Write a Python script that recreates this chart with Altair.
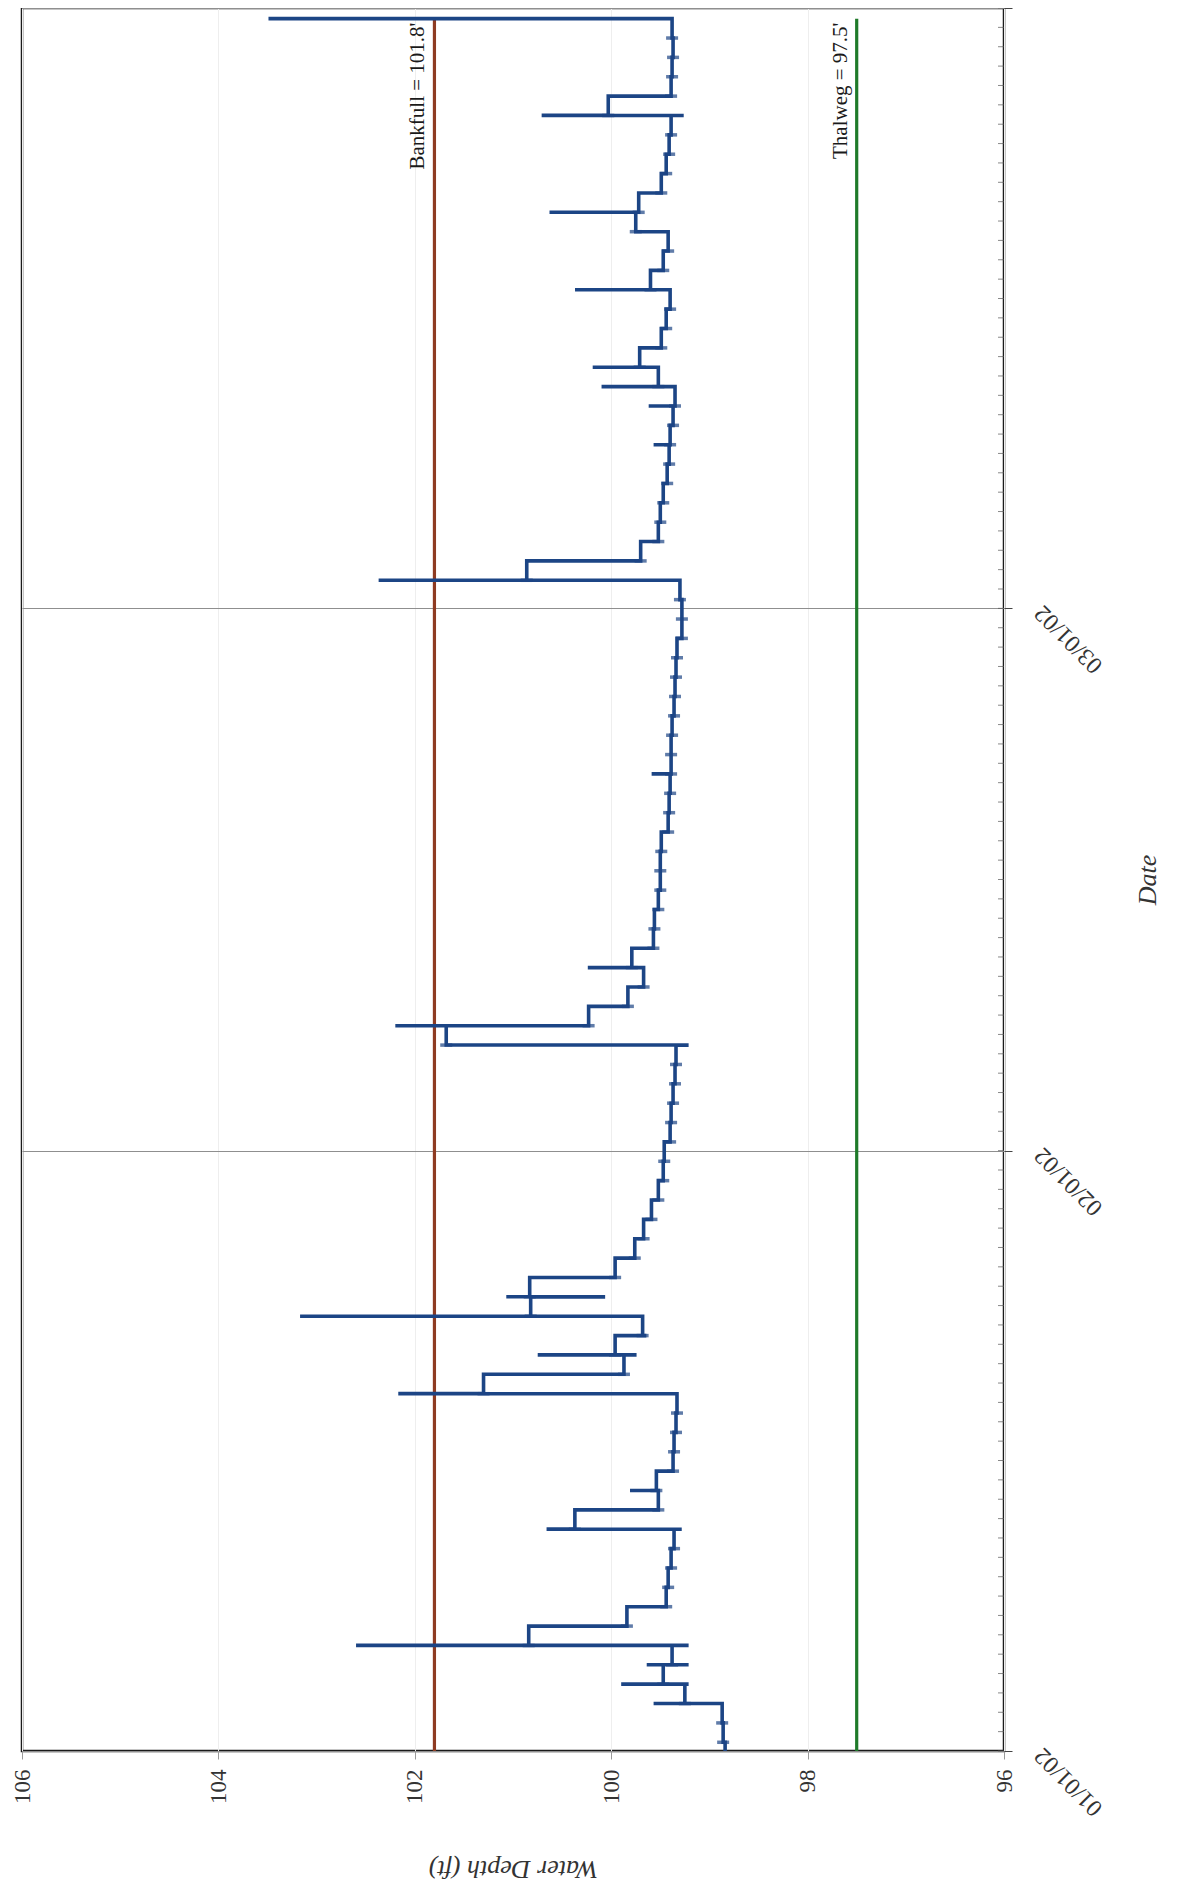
import json
from datetime import datetime, timedelta, timezone

import altair as alt
import pandas as pd

# ---------------- data ----------------
START = datetime(2002, 1, 1, tzinfo=timezone.utc)

start_depth = 98.84          # water depth at 01/01/02
step_offset = 0.45           # daily readings change around mid-day

# daily water depth (ft), one value per day from 01/01/02 to 03/31/02
levels = [
    98.86, 98.87, 99.25, 99.47, 99.38, 100.84, 99.84, 99.44, 99.42, 99.39,
    99.36, 100.37, 99.52, 99.54, 99.37, 99.36, 99.34, 99.33, 101.30, 99.87,
    99.96, 99.68, 100.82, 100.83, 99.96, 99.76, 99.67, 99.59, 99.52, 99.47,
    99.46, 99.40, 99.39, 99.37, 99.35, 99.34, 101.68, 100.23, 99.83, 99.67,
    99.79, 99.57, 99.56, 99.52, 99.50, 99.50, 99.49, 99.42, 99.41, 99.40,
    99.39, 99.39, 99.38, 99.36, 99.35, 99.34, 99.33, 99.28, 99.28, 99.30,
    100.86, 99.70, 99.52, 99.50, 99.47, 99.43, 99.41, 99.40, 99.37, 99.35,
    99.52, 99.71, 99.49, 99.44, 99.40, 99.60, 99.47, 99.42, 99.75, 99.72,
    99.49, 99.44, 99.41, 99.39, 100.03, 99.39, 99.38, 99.37, 99.38, 103.49,
]

# short-lived storm peaks (day index -> peak depth)
peak_days = [2, 3, 4, 5, 11, 13, 18, 20, 22, 23, 37, 40, 50, 60, 67, 69, 70, 71, 75, 79, 84]
peak_depths = [99.55, 99.88, 99.62, 102.58, 100.64, 99.79, 102.15, 100.73, 103.15, 101.05,
               102.18, 100.22, 99.57, 102.35, 99.55, 99.60, 100.08, 100.17, 100.35, 100.61, 100.69]

# short-lived low readings (day index -> low depth)
trough_days = [3, 4, 5, 11, 20, 21, 23, 36, 84]
trough_depths = [99.23, 99.23, 99.23, 99.30, 99.76, 99.66, 100.08, 99.23, 99.28]

ref_depths = [101.8, 97.5]
ref_labels = ["Bankfull = 101.8'", "Thalweg = 97.5'"]
ref_colors = ["#8e3b22", "#1f7a2a"]

month_days = [0, 31, 59, 90]
month_labels = ["01/01/02", "02/01/02", "03/01/02", ""]
depth_ticks = [96, 98, 100, 102, 104, 106]


def ms(days):
    return (START + timedelta(days=days)).timestamp() * 1000


# ---------------- tables ----------------
peaks = dict(zip(peak_days, peak_depths))
troughs = dict(zip(trough_days, trough_depths))

rows = [{"time": ms(0), "depth": start_depth, "seq": 0}]
for n, v in enumerate(levels):
    t = n + step_offset
    seq_vals = []
    if n in troughs:
        seq_vals.append(troughs[n])
    if n in peaks:
        seq_vals.append(peaks[n])
    seq_vals.append(v)
    for k, d in enumerate(seq_vals):
        rows.append({"time": ms(t + k * 0.002), "depth": d, "seq": len(rows)})
series = pd.DataFrame(rows)

marks = pd.DataFrame({
    "time": [ms(n + step_offset) for n in range(len(levels) - 1)],
    "depth": levels[:-1],
})

last_t = ms(len(levels) - 1 + step_offset)
refs = pd.DataFrame({
    "depth": ref_depths,
    "label": ref_labels,
    "color": ref_colors,
    "time": [ms(0)] * 2,
    "time2": [last_t] * 2,
})

minor = pd.DataFrame({"time": [ms(d) for d in range(0, 91)]})

month_ms = [ms(d) for d in month_days]
label_expr = json.dumps(month_labels) + "[utcmonth(datum.value)]"

FONT = "Liberation Serif"
W, H = 982, 1743
BLUE = "#1c4585"

x_enc = alt.X(
    "depth:Q",
    scale=alt.Scale(domain=[96, 106], reverse=True, nice=False, zero=False),
    axis=alt.Axis(
        values=depth_ticks, format="d",
        title="Water Depth (ft)", titleAngle=180, titleX=W / 2, titleY=117,
        titleAlign="center", titleBaseline="middle", titleFontStyle="italic",
        titleFontSize=26, titleFontWeight="normal", titleColor="#333333",
        labelAngle=270, labelAlign="right", labelBaseline="middle",
        labelPadding=10, labelFontSize=23, labelColor="#333333",
        tickSize=8, tickColor="#999999",
        grid=True, gridColor="#eeeeee", domain=False,
    ),
)
y_enc = alt.Y(
    "time:T",
    scale=alt.Scale(type="utc", domain=[ms(0), ms(90)], nice=False),
    axis=alt.Axis(
        orient="right", values=month_ms, labelExpr=label_expr,
        title="Date", titleAngle=270, titleX=143, titleY=H / 2,
        titleAlign="center", titleBaseline="middle", titleFontStyle="italic",
        titleFontSize=26, titleFontWeight="normal", titleColor="#333333",
        labelAngle=225, labelAlign="right", labelBaseline="middle",
        labelPadding=26, labelFontSize=24, labelColor="#333333",
        tickSize=8, tickColor="#444444",
        grid=True, gridColor="#8f8f8f", gridWidth=1, domain=False,
    ),
)

line = alt.Chart(series).mark_line(
    interpolate="step-before", strokeWidth=3.6, color=BLUE
).encode(x=x_enc, y=y_enc, order=alt.Order("seq:Q"))

daily = alt.Chart(marks).mark_tick(
    orient="horizontal", size=12, thickness=3.5, color=BLUE
).encode(x="depth:Q", y="time:T")

minor_ticks = alt.Chart(minor).mark_tick(
    orient="horizontal", size=6, thickness=1, color="#555555"
).encode(x=alt.value(W - 3), y="time:T")

rules = alt.Chart(refs).mark_rule(strokeWidth=3.2).encode(
    x="depth:Q", y="time:T", y2="time2",
    color=alt.Color("color:N", scale=None),
)

texts = alt.Chart(refs).mark_text(
    angle=270, align="right", baseline="bottom", dy=-6, dx=-4,
    font=FONT, fontSize=21, color="#1a1a1a",
).encode(x="depth:Q", y="time2:T", text="label:N")

chart = alt.layer(rules, line, daily, minor_ticks, texts).properties(
    width=W, height=H,
    padding={"left": 14, "top": 0, "right": 160, "bottom": 135},
    autosize=alt.AutoSizeParams(type="none"),
).configure(font=FONT).configure_view(stroke="#1a1a1a", strokeWidth=2.5)

chart.save("out.html", embed_options={"renderer": "svg", "actions": False})
